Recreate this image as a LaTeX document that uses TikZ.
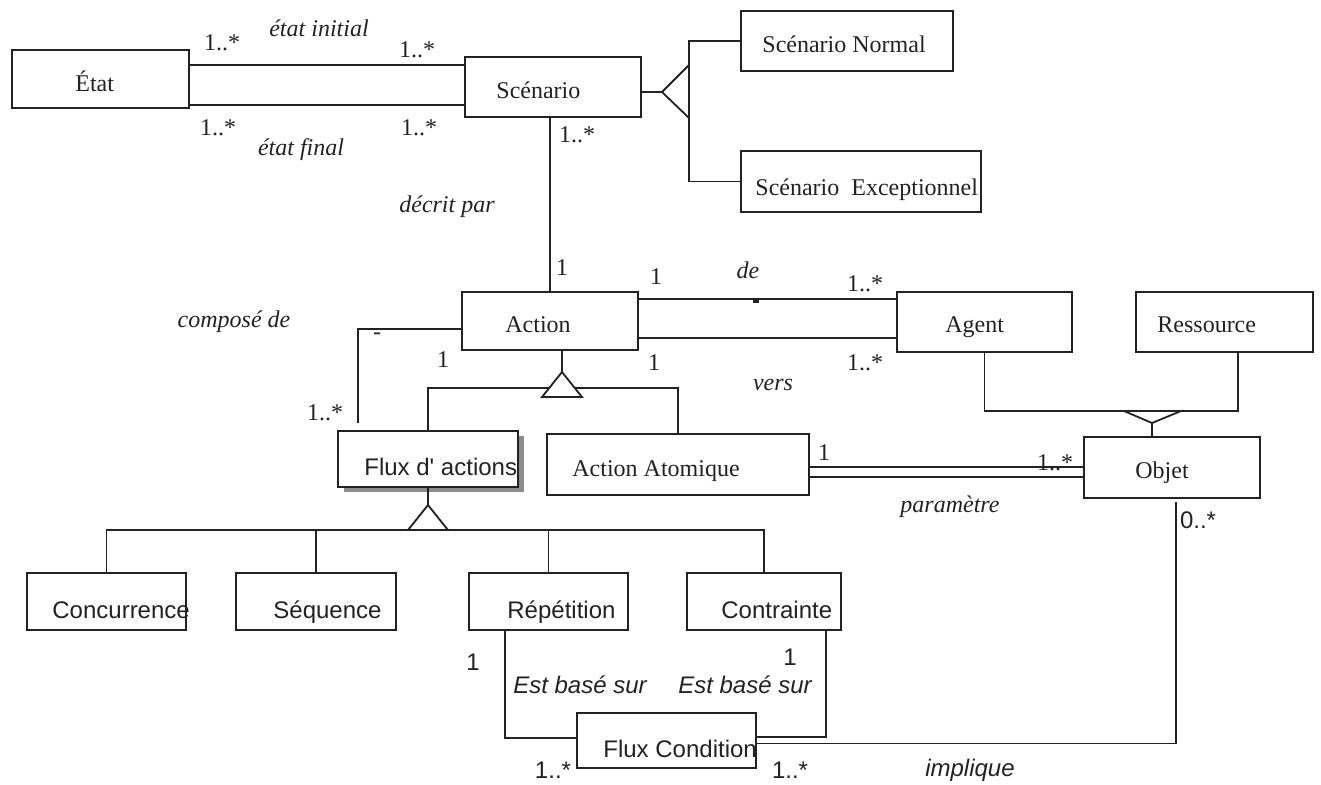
\documentclass[tikz,border=0pt]{standalone}
\usepackage{fontspec}
\setmainfont{Liberation Serif}
\setsansfont{Liberation Sans}
\usetikzlibrary{shadows}
\definecolor{ink}{RGB}{34,34,34}
\begin{document}
\begin{tikzpicture}[x=0.5pt,y=-0.5pt,
  box/.style={draw=ink, line width=1.1pt, fill=white, inner sep=0pt, outer sep=0pt},
  wire/.style={draw=ink, line width=0.9pt},
  assoc/.style={draw=ink, line width=1.3pt},
  gentri/.style={draw=ink, line width=0.9pt, fill=white, line join=miter},
  cname/.style={font=\fontsize{12}{14}\selectfont, text=ink, inner sep=0pt, anchor=base west},
  sname/.style={font=\sffamily\fontsize{12}{14}\selectfont, text=ink, inner sep=0pt, anchor=base west},
  mult/.style={font=\fontsize{12}{14}\selectfont, text=ink, inner sep=0pt},
  role/.style={font=\itshape\fontsize{12}{14}\selectfont, text=ink, inner sep=0pt},
  smult/.style={font=\sffamily\fontsize{12}{14}\selectfont, text=ink, inner sep=0pt},
  srole/.style={font=\sffamily\itshape\fontsize{12}{14}\selectfont, text=ink, inner sep=0pt},
]
\useasboundingbox (0,0) rectangle (1321,784);

% ---------- classes ----------
\node[box, minimum width=88.5pt, minimum height=29pt]   (etat)   at (100.5,79)  {};
\node[box, minimum width=88pt,   minimum height=30pt]   (scen)   at (553,87)    {};
\node[box, minimum width=106pt,  minimum height=30pt]   (norm)   at (847,41)    {};
\node[box, minimum width=120pt,  minimum height=30.5pt] (exc)    at (861,181.5) {};
\node[box, minimum width=88pt,   minimum height=29pt]   (action) at (550,321)   {};
\node[box, minimum width=87.5pt, minimum height=30pt]   (agent)  at (984.5,322) {};
\node[box, minimum width=88.5pt, minimum height=30pt]   (ress)   at (1224.5,322){};
\node[box, minimum width=88pt,   minimum height=30.5pt] (objet)  at (1172,467.5){};
\node[box, minimum width=131pt,  minimum height=30.5pt] (atom)   at (678,464.5) {};
\node[box, minimum width=90pt,   minimum height=28pt,
      drop shadow={shadow xshift=3pt, shadow yshift=-2.5pt, fill=black!45, opacity=1}]
                                                        (flux)   at (428,459)   {};
\node[box, minimum width=79.5pt, minimum height=28.5pt] (conc)   at (106.5,601.5){};
\node[box, minimum width=80pt,   minimum height=28.5pt] (seq)    at (316,601.5) {};
\node[box, minimum width=79.5pt, minimum height=28.5pt] (rep)    at (548.5,601.5){};
\node[box, minimum width=77pt,   minimum height=28.5pt] (contr)  at (764,601.5) {};
\node[box, minimum width=89.5pt, minimum height=27.5pt] (fcond)  at (666.5,740.5){};

% ---------- class names ----------
\node[cname] (etat-t)   at (75,91)    {État};
\node[cname] (scen-t)   at (496,98)   {Scénario};
\node[cname] (norm-t)   at (762,52)   {Scénario Normal};
\node[cname] (exc-t)    at (755,195)  {Scénario\ \ Exceptionnel};
\node[cname] (action-t) at (505,332)  {Action};
\node[cname] (agent-t)  at (945,332)  {Agent};
\node[cname] (ress-t)   at (1157,332) {Ressource};
\node[cname] (objet-t)  at (1135,478) {Objet};
\node[cname] (atom-t)   at (572,476)  {Action Atomique};
\node[sname] (flux-t)   at (364,475)  {Flux d\textquotesingle\ actions};
\node[sname] (conc-t)   at (52,618)   {Concurrence};
\node[sname] (seq-t)    at (273,618)  {Séquence};
\node[sname] (rep-t)    at (507,618)  {Répétition};
\node[sname] (contr-t)  at (721,618)  {Contrainte};
\node[sname] (fcond-t)  at (603,757)  {Flux Condition};

% ---------- associations ----------
% état initial / état final
\draw[assoc] ([yshift=7pt]etat.east) -- ([yshift=7pt]etat.east -| scen.west);
\draw[assoc] ([yshift=-13pt]etat.east) -- ([yshift=-13pt]etat.east -| scen.west);
% décrit par
\draw[wire] (scen.south -| action.north) -- (action.north);
% de / vers
\draw[assoc] ([yshift=11pt]action.east) -- ([yshift=11pt]action.east -| agent.west);
\draw[assoc] ([yshift=-8.5pt]action.east) -- ([yshift=-8.5pt]action.east -| agent.west);
\coordinate (tick) at (756,301);
\draw[draw=ink, line width=1.6pt] ([xshift=-1.5pt]tick) -- ([xshift=1.5pt]tick);
% composé de
\coordinate (cmp) at (358,423);
\draw[wire] ([yshift=-4pt]action.west) -| (cmp);
% paramètre
\draw[assoc] ([yshift=-1.25pt]atom.east) -- ([yshift=-1.25pt]atom.east -| objet.west);
\draw[wire]  ([yshift=-6.25pt]atom.east) -- ([yshift=-6.25pt]atom.east -| objet.west);
% est basé sur
\draw[wire] ([yshift=1.25pt]fcond.west) -| ([xshift=-21.75pt]rep.south);
\draw[wire] ([yshift=1.75pt]fcond.east) -| ([xshift=31pt]contr.south);
% implique
\draw[wire] ([yshift=-1.5pt]fcond.east) -| ([xshift=2pt,yshift=-2pt]objet.south);

% ---------- generalisations ----------
% Scénario
\coordinate (g1) at (662,92);
\coordinate (g1b) at (689,92);
\draw[wire] ([yshift=-2.5pt]scen.east) -- (g1);
\draw[wire] (norm.west) -| (g1b) |- (exc.west);
\draw[gentri] (g1) -- ++(27,-27) -- ++(0,53) -- cycle;
% Action
\coordinate (g2) at (562,372);
\coordinate (g2bar) at (562,388);
\draw[wire] (action.south -| g2) -- (g2);
\draw[wire] (flux.north) |- (g2bar) -| (atom.north);
\draw[gentri] (g2) -- ++(-20,25) -- ++(40,0) -- cycle;
% Objet
\coordinate (g3) at (1152,423);
\coordinate (g3r) at (1238,411);
\draw[wire] (agent.south) |- (g3r) -- (g3r |- ress.south);
\draw[wire] (g3) -- (g3 |- objet.north);
\draw[gentri] (g3) -- ++(-28,-12) -- ++(57,0) -- cycle;
% Flux d'actions
\coordinate (g4) at (428,505);
\coordinate (g4bar) at (428,530);
\draw[wire] (flux.south) -- (g4);
\draw[wire] (conc.north) |- (g4bar) -| (contr.north);
\draw[wire] (seq.north) -- (seq.north |- g4bar);
\draw[wire] (rep.north) -- (rep.north |- g4bar);
\draw[gentri] (g4) -- ++(-20,25) -- ++(40,0) -- cycle;

% ---------- roles and multiplicities ----------
\node[mult] (m1)  at (222,43)   {1..*};
\node[role] (r1)  at (319,28)   {état initial};
\node[mult] (m2)  at (417,50)   {1..*};
\node[mult] (m3)  at (218,128)  {1..*};
\node[mult] (m4)  at (419,128)  {1..*};
\node[role] (r2)  at (301,150)  {état final};
\node[mult] (m5)  at (577,135)  {1..*};
\node[role] (r3)  at (447,207)  {décrit par};
\node[mult] (m6)  at (562,268)  {1};
\node[mult] (m7)  at (656,277)  {1};
\node[role] (r4)  at (748,270)  {de};
\node[mult] (m8)  at (865,284)  {1..*};
\node[mult] (m9)  at (654,363)  {1};
\node[mult] (m10) at (865,363)  {1..*};
\node[role] (r5)  at (773,385)  {vers};
\node[role] (r6)  at (234,322)  {composé de};
\node[mult] (m11) at (377,336)  {-};
\node[mult] (m12) at (325,413)  {1..*};
\node[mult] (m13) at (443,360)  {1};
\node[mult] (m14) at (824,453)  {1};
\node[mult] (m15) at (1055,463) {1..*};
\node[role] (r7)  at (950,507)  {paramètre};
\node[smult] (m16) at (1198,520) {0..*};
\node[smult] (m17) at (473,662)  {1};
\node[srole] (r8)  at (580,685)  {Est basé sur};
\node[smult] (m18) at (790,657)  {1};
\node[srole] (r9)  at (745,685)  {Est basé sur};
\node[smult] (m19) at (553,770)  {1..*};
\node[smult] (m20) at (790,770)  {1..*};
\node[srole] (r10) at (970,770)  {implique};
\end{tikzpicture}
\end{document}
